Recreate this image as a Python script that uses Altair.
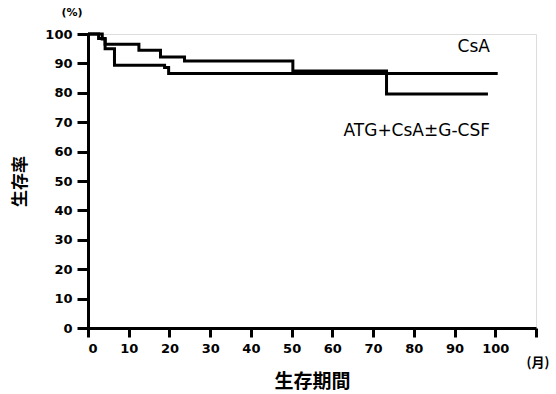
import altair as alt
import pandas as pd

# Kaplan-Meier step points (month, survival %)
atg_months = [0, 2.6, 4.2, 12.5, 17.8, 23.7, 50.3, 73.3, 98.2]
atg_surv = [100, 98.5, 96.5, 94.5, 92.2, 90.8, 87.4, 79.6, 79.6]
csa_months = [0, 3.5, 4.2, 6.5, 18.8, 19.8, 100.6]
csa_surv = [100, 98.3, 95.0, 89.4, 88.6, 86.6, 86.6]

series_names = ["ATG+CsA±G-CSF", "CsA"]
x_ticks = [0, 10, 20, 30, 40, 50, 60, 70, 80, 90, 100, 110]
y_ticks = [0, 10, 20, 30, 40, 50, 60, 70, 80, 90, 100]

label_x = [98.7, 98.7]
label_y = [67.0, 95.7]

rows = []
for m, s in zip(atg_months, atg_surv):
    rows.append({"month": m, "surv": s, "group": series_names[0]})
for m, s in zip(csa_months, csa_surv):
    rows.append({"month": m, "surv": s, "group": series_names[1]})
df = pd.DataFrame(rows)

lab = pd.DataFrame({"month": label_x, "surv": label_y, "text": series_names})

FONT = "DejaVu Sans"
CJK = "Noto Sans CJK JP"

x_scale = alt.Scale(domain=[0, 110], nice=False, zero=False)
y_scale = alt.Scale(domain=[0, 100], nice=False)

x_axis = alt.Axis(values=x_ticks, title="生存期間",
                  labelExpr="datum.value == 110 ? '' : datum.label",
                  labelOverlap=False,
                  grid=False, tickSize=9, tickWidth=3, domainWidth=3,
                  domainColor="black", tickColor="black",
                  labelFont=FONT, labelFontSize=13, labelFontWeight="bold",
                  labelColor="black", labelPadding=5,
                  titleFont=CJK, titleFontSize=19, titleFontWeight="bold",
                  titleColor="black", titlePadding=17)
y_axis = alt.Axis(values=y_ticks, title="生存率",
                  labelOverlap=False,
                  grid=False, tickSize=11, tickWidth=3, domainWidth=3,
                  domainColor="black", tickColor="black",
                  labelFont=FONT, labelFontSize=13, labelFontWeight="bold",
                  labelColor="black", labelPadding=5,
                  titleFont=CJK, titleFontSize=17, titleFontWeight="bold",
                  titleColor="black", titlePadding=15)

lines = alt.Chart(df).mark_line(
    interpolate="step-after", color="black", strokeWidth=3
).encode(
    x=alt.X("month:Q", scale=x_scale, axis=x_axis),
    y=alt.Y("surv:Q", scale=y_scale, axis=y_axis),
    detail="group:N",
)

labels = alt.Chart(lab).mark_text(
    align="right", baseline="middle", font=FONT, fontSize=17, color="black"
).encode(
    x=alt.X("month:Q", scale=x_scale, axis=x_axis),
    y=alt.Y("surv:Q", scale=y_scale, axis=y_axis),
    text="text:N",
)

pct = alt.Chart(pd.DataFrame({"t": ["(%)"]})).mark_text(
    align="center", baseline="middle", font=FONT, fontSize=11, fontWeight="bold", color="black"
).encode(x=alt.value(-16), y=alt.value(-21), text="t:N")

month_unit = alt.Chart(pd.DataFrame({"t": ["(月)"]})).mark_text(
    align="center", baseline="middle", font=CJK, fontSize=13, fontWeight="bold", color="black"
).encode(x=alt.value(450), y=alt.value(329), text="t:N")

chart = alt.layer(lines, labels, pct, month_unit).properties(
    width=448, height=294,
    autosize=alt.AutoSizeParams(type="none"),
    padding={"left": 88, "top": 34, "right": 20, "bottom": 66},
).configure_view(stroke=None).configure(background="white")

chart.save("out.html", embed_options={"renderer": "svg", "actions": False})
